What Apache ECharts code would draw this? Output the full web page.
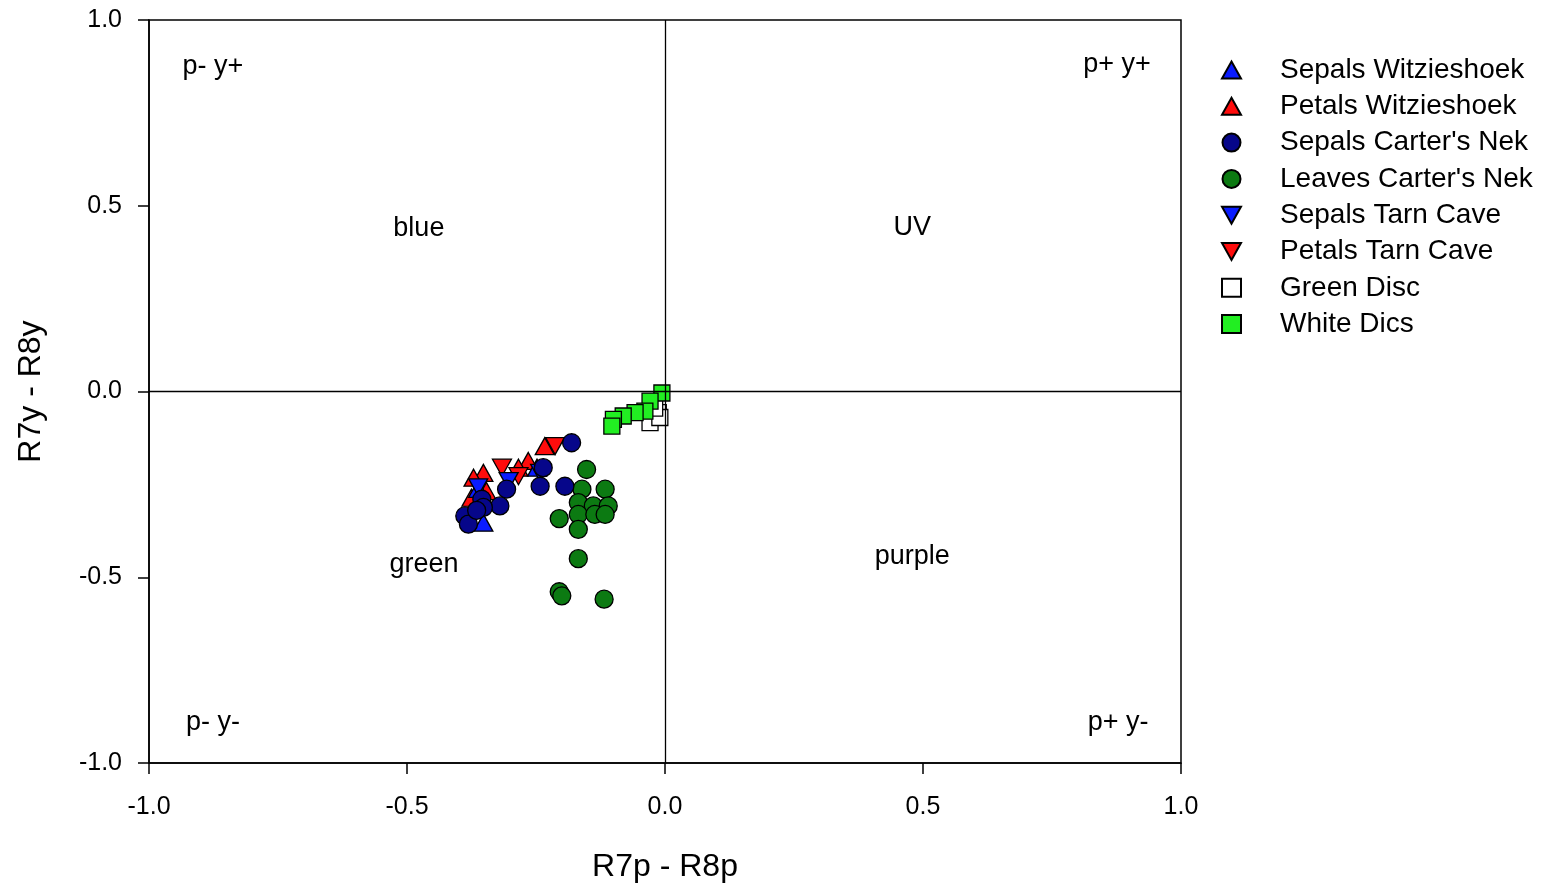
<!DOCTYPE html>
<html>
<head>
<meta charset="utf-8">
<script src="https://cdn.jsdelivr.net/npm/echarts@6/dist/echarts.min.js"></script>
<style>
html,body{margin:0;padding:0;background:#fff;}
#chart{width:1551px;height:888px;}
</style>
</head>
<body>
<div id="chart"></div>
<script>
// ---- data (x = R7p - R8p, y = R7y - R8y) ----
const sepalsWitzieshoek = [[-0.352,-0.353],[-0.362,-0.262],[-0.248,-0.205]];
const petalsWitzieshoek = [[-0.233,-0.147],[-0.265,-0.187],[-0.352,-0.219],[-0.371,-0.232],[-0.284,-0.205],[-0.346,-0.268],[-0.375,-0.286]];
const sepalsCartersNek = [[-0.181,-0.138],[-0.236,-0.205],[-0.242,-0.255],[-0.194,-0.255],[-0.307,-0.263],[-0.320,-0.308],[-0.355,-0.290],[-0.352,-0.312],[-0.388,-0.335],[-0.381,-0.357],[-0.365,-0.320]];
const leavesCartersNek = [[-0.152,-0.210],[-0.161,-0.263],[-0.116,-0.263],[-0.168,-0.299],[-0.139,-0.308],[-0.110,-0.308],[-0.168,-0.331],[-0.136,-0.331],[-0.116,-0.331],[-0.205,-0.342],[-0.168,-0.371],[-0.168,-0.450],[-0.205,-0.539],[-0.200,-0.550],[-0.118,-0.559]];
const sepalsTarnCave = [[-0.242,-0.219],[-0.303,-0.241],[-0.362,-0.258]];
const petalsTarnCave = [[-0.213,-0.147],[-0.316,-0.205],[-0.284,-0.228]];
const greenDisc = [[-0.013,-0.057],[-0.029,-0.084],[-0.010,-0.070],[-0.020,-0.045]];
const whiteDics = [[-0.006,-0.004],[-0.029,-0.026],[-0.039,-0.053],[-0.058,-0.057],[-0.081,-0.066],[-0.100,-0.075],[-0.103,-0.093]];

const seriesNames = ["Sepals Witzieshoek","Petals Witzieshoek","Sepals Carter's Nek","Leaves Carter's Nek","Sepals Tarn Cave","Petals Tarn Cave","Green Disc","White Dics"];
const xTicks = [-1.0,-0.5,0.0,0.5,1.0];
const yTicks = [-1.0,-0.5,0.0,0.5,1.0];
const quadrantLabels = [
  {text:'p- y+', x:-0.876, y:0.876},
  {text:'p+ y+', x:0.876, y:0.879},
  {text:'blue', x:-0.477, y:0.438},
  {text:'UV', x:0.479, y:0.441},
  {text:'green', x:-0.467, y:-0.465},
  {text:'purple', x:0.479, y:-0.444},
  {text:'p- y-', x:-0.876, y:-0.890},
  {text:'p+ y-', x:0.878, y:-0.890}
];

const FONT = '"Liberation Sans", Arial, sans-serif';
const downTri = 'path://M0,0 L10,0 L5,9 Z';
const upTri = 'path://M5,0 L10,9 L0,9 Z';
const border = {borderColor:'#000', borderWidth:1.3};

function sc(name, data, symbol, size, color, z) {
  return {
    name, type:'scatter', data, symbol, symbolSize:size, z: z||2,
    itemStyle: Object.assign({color, opacity:1}, border),
    emphasis:{disabled:true}
  };
}

const chart = echarts.init(document.getElementById('chart'), null, {renderer:'canvas'});
chart.setOption({
  animation:false,
  backgroundColor:'#fff',
  grid:{left:149, right:370, top:20, bottom:124, show:true, borderColor:'#000', borderWidth:1.5, backgroundColor:'transparent'},
  legend:{
    orient:'vertical', left:1216, top:51, itemWidth:19, itemHeight:18, itemGap:8.3,
    textStyle:{fontFamily:FONT, fontSize:28, lineHeight:28, color:'#000', padding:[0,0,0,34]},
    data: seriesNames,
    selectedMode:false
  },
  xAxis:{
    type:'value', min:-1, max:1, interval:0.5,
    name:'R7p - R8p', nameLocation:'middle', nameGap:88,
    nameTextStyle:{fontFamily:FONT, fontSize:32, color:'#000'},
    axisLine:{show:true, onZero:false, lineStyle:{color:'#000', width:1.5}},
    axisTick:{show:true, inside:false, length:11, lineStyle:{color:'#000', width:1.5}},
    axisLabel:{fontFamily:FONT, fontSize:25, color:'#000', margin:32, formatter:v=>v.toFixed(1)},
    splitLine:{show:false}
  },
  yAxis:{
    type:'value', min:-1, max:1, interval:0.5,
    name:'R7y - R8y', nameLocation:'middle', nameGap:102, nameRotate:90,
    nameTextStyle:{fontFamily:FONT, fontSize:32, color:'#000'},
    axisLine:{show:true, onZero:false, lineStyle:{color:'#000', width:1.5}},
    axisTick:{show:true, inside:false, length:11, lineStyle:{color:'#000', width:1.5}},
    axisLabel:{fontFamily:FONT, fontSize:25, color:'#000', margin:27, formatter:v=>v.toFixed(1)},
    splitLine:{show:false}
  },
  series:[
    {
      name:'_lines', type:'scatter', data:[], silent:true,
      markLine:{silent:true, symbol:['none','none'], label:{show:false},
        lineStyle:{color:'#000', width:1.3, type:'solid', opacity:1},
        data:[{xAxis:0},{yAxis:0}]}
    },
    {
      name:'_labels', type:'scatter', silent:true, symbolSize:0,
      itemStyle:{opacity:1},
      data: quadrantLabels.map(d=>({value:[d.x,d.y], label:{formatter:d.text}})),
      label:{show:true, position:'inside', fontFamily:FONT, fontSize:27, color:'#000', opacity:1}
    },
    sc(seriesNames[3], leavesCartersNek, 'circle', 18, '#0c7a12', 3),
    sc(seriesNames[1], petalsWitzieshoek, upTri, [19,17], '#ff0c0c', 3),
    sc(seriesNames[5], petalsTarnCave, downTri, [19,17], '#ff0c0c', 3),
    sc(seriesNames[0], sepalsWitzieshoek, upTri, [19,17], '#0a1cff', 4),
    sc(seriesNames[4], sepalsTarnCave, downTri, [19,17], '#0a1cff', 4),
    sc(seriesNames[2], sepalsCartersNek, 'circle', 18, '#06068a', 5),
    sc(seriesNames[6], greenDisc, 'rect', 16, '#ffffff', 3),
    sc(seriesNames[7], whiteDics, 'rect', 16, '#22ee22', 4)
  ]
});
</script>
</body>
</html>
